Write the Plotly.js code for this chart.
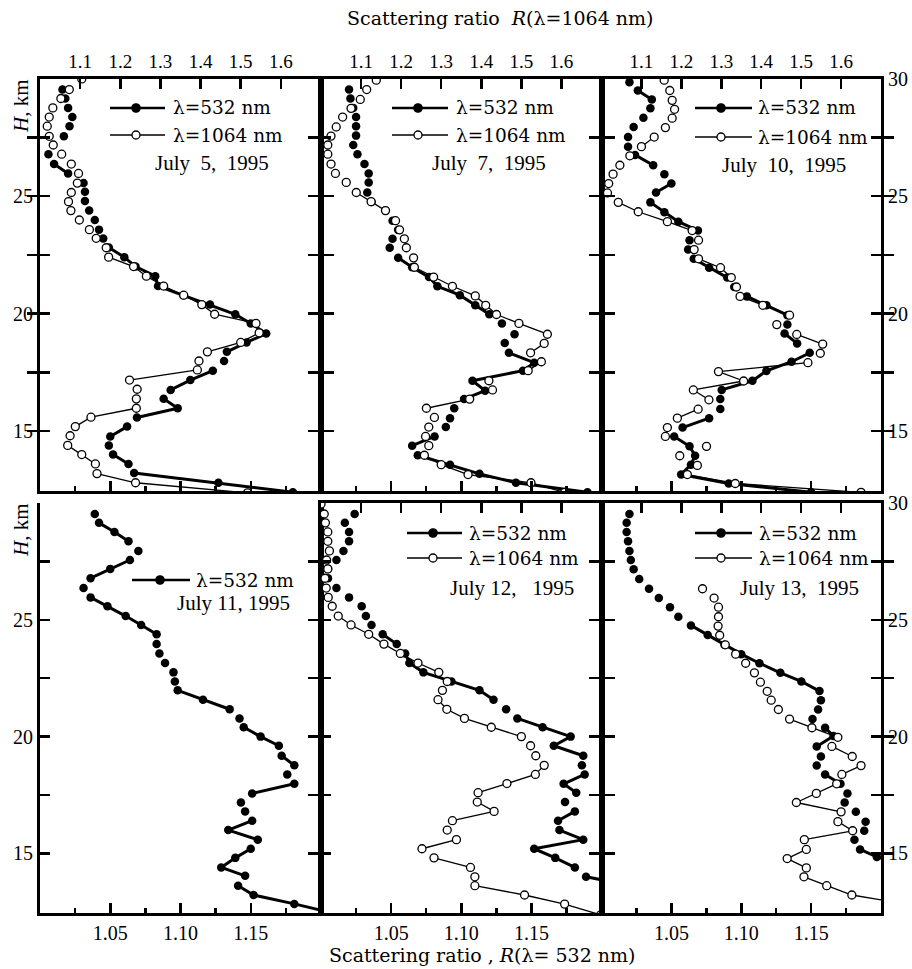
<!DOCTYPE html>
<html><head><meta charset="utf-8">
<script src="https://cdn.plot.ly/plotly-3.0.1.min.js"></script>
<style>body{margin:0;background:#fff}#chart{width:912px;height:969px}</style>
</head><body><div id="chart"></div>
<script>
// ---------- DATA (H in km, R = scattering ratio, L = 1 if joined to previous point) ----------
const dates = ['July\u00a0 5,\u00a0 1995', 'July\u00a0 7,\u00a0 1995', 'July\u00a0 10,\u00a0 1995', 'July 11, 1995', 'July 12,\u00a0\u00a0 1995', 'July 13,\u00a0 1995'];
const xTicks532 = [1.05, 1.10, 1.15];
const xTickText532 = ['1.05', '1.10', '1.15'];
const xTicks1064 = [1.1, 1.2, 1.3, 1.4, 1.5, 1.6];
const xTickText1064 = ['1.1', '1.2', '1.3', '1.4', '1.5', '1.6'];
const yTicks = [15, 17.5, 20, 22.5, 25, 27.5, 30];

// July 5
const H532_1 = [29.53,29.15,28.75,28.36,27.97,27.54,26.78,26.36,25.96,25.55,25.18,24.79,24.38,23.98,23.57,23.19,22.81,22.40,22.00,21.59,21.17,20.78,20.38,19.97,19.58,19.15,18.77,18.37,17.98,17.57,17.17,16.75,16.37,15.97,15.58,15.19,14.77,14.39,14.00,13.60,13.22,12.80,12.40];
const R532_1 = [1.016,1.018,1.020,1.023,1.021,1.017,1.006,1.010,1.020,1.031,1.032,1.032,1.035,1.039,1.042,1.045,1.049,1.060,1.068,1.082,1.084,1.102,1.121,1.139,1.150,1.161,1.147,1.133,1.131,1.123,1.107,1.093,1.088,1.098,1.069,1.062,1.050,1.049,1.052,1.063,1.067,1.127,1.180];
const L532_1 = [0,0,0,0,0,0,0,0,1,0,0,0,0,0,0,0,0,1,1,1,1,1,1,1,1,1,1,1,0,0,1,1,0,1,1,0,1,0,0,1,0,1,1];
const H1064_1 = [29.98,29.53,29.15,28.75,28.36,27.97,27.54,27.17,26.78,26.36,25.96,25.55,25.15,24.76,24.38,23.98,23.57,23.20,22.80,22.40,22.00,21.59,21.17,20.78,20.38,19.97,19.58,19.18,18.77,18.37,17.98,17.60,17.17,16.78,16.37,15.97,15.59,15.19,14.80,14.39,14.00,13.60,13.19,12.80,12.37];
const R1064_1 = [1.104,1.073,1.052,1.032,1.023,1.018,1.023,1.033,1.054,1.078,1.096,1.093,1.078,1.071,1.077,1.098,1.123,1.140,1.165,1.171,1.233,1.265,1.308,1.358,1.403,1.435,1.538,1.546,1.500,1.417,1.396,1.392,1.223,1.242,1.240,1.240,1.127,1.088,1.075,1.069,1.104,1.138,1.142,1.238,1.517];
const L1064_1 = [0,0,0,0,0,0,0,0,0,0,0,0,0,0,0,0,0,0,0,0,1,1,1,1,1,1,1,1,1,1,0,0,1,0,0,0,1,1,0,0,1,1,0,1,1];

// July 7
const H532_2 = [29.53,29.15,28.75,28.36,27.97,27.57,27.17,26.78,26.36,25.96,25.58,25.15,24.75,24.38,23.95,23.56,23.18,22.80,22.37,21.97,21.55,21.16,20.78,20.35,19.97,19.58,19.12,18.75,18.33,17.91,17.57,17.14,16.72,16.36,15.97,15.55,15.17,14.77,14.38,13.97,13.57,13.18,12.80,12.40];
const R532_2 = [1.020,1.021,1.023,1.025,1.025,1.025,1.023,1.026,1.031,1.034,1.034,1.033,1.036,1.046,1.051,1.055,1.051,1.049,1.055,1.065,1.077,1.083,1.099,1.110,1.120,1.129,1.138,1.131,1.134,1.152,1.144,1.108,1.117,1.102,1.095,1.092,1.089,1.081,1.065,1.069,1.092,1.113,1.139,1.190];
const L532_2 = [0,0,0,0,0,0,0,0,0,0,0,0,0,0,0,0,0,0,0,1,1,1,1,1,1,0,0,0,0,1,1,1,1,1,0,0,0,0,1,0,1,1,1,1];
const H1064_2 = [29.93,29.53,29.11,28.73,28.36,27.94,27.55,27.17,26.78,26.36,25.96,25.58,25.15,24.76,24.38,23.95,23.56,23.18,22.80,22.37,21.97,21.55,21.16,20.75,20.35,19.96,19.58,19.12,18.73,18.33,17.95,17.57,17.14,16.75,16.36,15.97,15.58,15.17,14.77,14.38,13.97,13.57,13.15,12.80,12.39];
const R1064_2 = [1.138,1.114,1.098,1.075,1.054,1.038,1.025,1.017,1.017,1.025,1.036,1.063,1.088,1.125,1.161,1.186,1.196,1.208,1.213,1.231,1.233,1.281,1.328,1.385,1.411,1.438,1.494,1.565,1.557,1.523,1.550,1.517,1.419,1.428,1.371,1.263,1.283,1.269,1.261,1.269,1.258,1.300,1.367,1.524,1.608];
const L1064_2 = [0,0,0,0,0,0,0,0,0,0,0,0,0,1,1,0,0,0,0,0,0,1,1,1,1,1,1,1,0,1,0,1,0,0,0,1,0,0,0,0,0,1,1,1,1];

// July 10
const H532_3 = [29.84,29.49,29.11,28.73,28.33,27.94,27.51,27.10,26.75,26.31,25.93,25.53,25.15,24.73,24.31,23.91,23.53,23.12,22.72,22.33,21.95,21.53,21.13,20.73,20.35,19.93,19.53,19.15,18.73,18.33,17.95,17.56,17.14,16.75,16.36,15.94,15.55,15.15,14.77,14.35,13.95,13.57,13.15,12.77,12.40];
const R532_3 = [1.020,1.026,1.036,1.035,1.030,1.023,1.019,1.019,1.024,1.037,1.045,1.050,1.039,1.035,1.045,1.055,1.069,1.063,1.062,1.066,1.077,1.090,1.095,1.104,1.118,1.133,1.133,1.131,1.140,1.149,1.136,1.118,1.108,1.086,1.085,1.085,1.077,1.058,1.052,1.063,1.067,1.064,1.057,1.091,1.150];
const L532_3 = [0,0,1,0,0,0,0,0,0,1,0,0,1,0,1,1,1,0,0,0,1,1,0,0,1,1,0,0,1,0,1,1,1,1,0,0,0,1,0,1,1,1,1,1,1];
const H1064_3 = [29.93,29.49,29.07,28.69,28.31,27.91,27.51,27.10,26.71,26.31,25.93,25.53,25.13,24.73,24.33,23.91,23.53,23.12,22.72,22.33,21.95,21.53,21.13,20.73,20.35,19.93,19.53,19.11,18.70,18.31,17.91,17.53,17.13,16.75,16.33,15.93,15.55,15.15,14.77,14.35,13.95,13.54,13.15,12.77,12.39];
const R1064_3 = [1.157,1.171,1.177,1.183,1.177,1.160,1.132,1.100,1.071,1.046,1.029,1.018,1.015,1.042,1.092,1.165,1.227,1.243,1.232,1.243,1.298,1.325,1.338,1.347,1.404,1.471,1.439,1.489,1.554,1.548,1.517,1.293,1.356,1.230,1.269,1.242,1.190,1.165,1.160,1.263,1.196,1.240,1.215,1.335,1.650];
const L1064_3 = [0,0,0,0,0,0,0,1,0,0,0,0,0,0,1,1,1,0,0,0,1,1,0,0,1,1,0,0,1,0,0,1,1,1,1,0,1,0,0,0,0,0,0,1,1];

// July 11 (532 nm only)
const H532_4 = [29.53,29.15,28.76,28.36,27.95,27.56,27.18,26.78,26.36,25.96,25.58,25.16,24.78,24.38,23.96,23.56,23.15,22.75,22.36,21.98,21.58,21.17,20.78,20.40,20.00,19.61,19.18,18.77,18.38,17.98,17.57,17.18,16.80,16.40,16.00,15.59,15.20,14.81,14.40,14.04,13.62,13.22,12.84,12.50];
const R532_4 = [1.039,1.042,1.053,1.063,1.070,1.064,1.050,1.036,1.031,1.036,1.048,1.061,1.072,1.083,1.083,1.085,1.089,1.095,1.096,1.098,1.116,1.135,1.142,1.145,1.157,1.170,1.172,1.181,1.176,1.181,1.151,1.143,1.146,1.151,1.134,1.155,1.150,1.139,1.129,1.146,1.141,1.152,1.181,1.205];
const L532_4 = [0,0,1,1,0,0,1,1,0,0,1,1,1,1,0,0,0,0,0,0,1,1,0,0,1,1,0,1,0,0,1,0,0,0,1,1,0,1,1,1,0,1,1,1];

// July 12
const H532_5 = [29.53,29.15,28.76,28.36,27.95,27.56,27.18,26.78,26.36,25.96,25.58,25.16,24.78,24.38,23.96,23.56,23.15,22.75,22.36,21.98,21.58,21.17,20.78,20.40,20.00,19.61,19.18,18.77,18.38,17.98,17.60,17.20,16.80,16.40,16.00,15.59,15.20,14.81,14.40,14.00,13.70];
const R532_5 = [1.024,1.017,1.020,1.020,1.016,1.011,1.005,1.005,1.011,1.020,1.029,1.032,1.036,1.044,1.054,1.060,1.063,1.073,1.093,1.113,1.123,1.132,1.140,1.158,1.178,1.166,1.187,1.186,1.188,1.173,1.182,1.174,1.181,1.169,1.170,1.187,1.152,1.167,1.181,1.189,1.215];
const L532_5 = [0,0,0,0,0,0,0,0,0,0,0,0,0,0,1,0,1,1,1,1,1,0,0,1,1,1,1,0,0,1,1,0,0,1,0,1,1,1,1,0,1];
const H1064_5 = [29.96,29.53,29.15,28.76,28.36,27.95,27.56,27.18,26.78,26.36,25.96,25.58,25.16,24.78,24.38,23.96,23.56,23.15,22.75,22.36,21.98,21.58,21.17,20.78,20.40,20.00,19.61,19.18,18.77,18.38,17.99,17.60,17.20,16.80,16.40,16.00,15.59,15.20,14.81,14.40,14.00,13.62,13.22,12.83,12.37];
const R1064_5 = [1.000,1.008,1.011,1.017,1.017,1.021,1.014,1.017,1.010,1.013,1.018,1.028,1.043,1.075,1.119,1.157,1.198,1.242,1.294,1.315,1.303,1.292,1.314,1.358,1.425,1.500,1.523,1.536,1.557,1.535,1.464,1.392,1.390,1.432,1.328,1.315,1.338,1.252,1.282,1.373,1.384,1.384,1.508,1.608,1.698];
const L1064_5 = [0,0,0,0,0,0,0,0,0,0,0,0,0,1,1,1,1,1,1,0,0,0,1,1,1,1,0,0,0,1,1,1,0,1,1,0,0,1,0,1,0,0,1,1,1];

// July 13
const H532_6 = [29.53,29.15,28.76,28.36,27.95,27.56,27.16,26.75,26.33,25.93,25.54,25.13,24.76,24.35,23.93,23.53,23.14,22.73,22.36,21.95,21.56,21.16,20.75,20.38,20.03,19.58,19.15,18.76,18.38,17.98,17.57,17.18,16.78,16.36,15.97,15.59,15.17,14.85,14.60];
const R532_6 = [1.020,1.018,1.018,1.019,1.020,1.021,1.023,1.027,1.034,1.041,1.049,1.055,1.064,1.076,1.088,1.100,1.113,1.128,1.143,1.156,1.157,1.155,1.151,1.160,1.166,1.154,1.157,1.154,1.160,1.171,1.176,1.174,1.182,1.189,1.188,1.181,1.185,1.197,1.215];
const L532_6 = [0,0,0,0,0,0,0,0,0,0,0,0,0,1,1,1,1,1,1,1,0,0,0,0,1,1,0,0,0,1,0,0,0,0,0,0,0,1,1];
const H1064_6 = [26.33,25.93,25.54,25.13,24.73,24.34,23.93,23.53,23.14,22.73,22.33,21.94,21.56,21.16,20.75,20.38,19.97,19.58,19.15,18.76,18.38,17.98,17.57,17.18,16.78,16.36,15.97,15.59,15.17,14.78,14.38,14.00,13.62,13.22,12.95];
const R1064_6 = [1.253,1.282,1.293,1.293,1.292,1.296,1.310,1.336,1.361,1.383,1.398,1.415,1.425,1.443,1.471,1.527,1.592,1.577,1.628,1.650,1.602,1.589,1.538,1.488,1.600,1.592,1.629,1.508,1.513,1.465,1.513,1.507,1.564,1.627,1.720];
const L1064_6 = [0,0,0,0,0,0,0,0,0,0,0,0,0,0,0,1,1,0,1,0,1,0,1,1,1,0,1,1,0,1,1,0,1,1,1];

// ---------- BUILD ----------
const panels = [
  {h5:H532_1, r5:R532_1, l5:L532_1, h1:H1064_1, r1:R1064_1, l1:L1064_1},
  {h5:H532_2, r5:R532_2, l5:L532_2, h1:H1064_2, r1:R1064_2, l1:L1064_2},
  {h5:H532_3, r5:R532_3, l5:L532_3, h1:H1064_3, r1:R1064_3, l1:L1064_3},
  {h5:H532_4, r5:R532_4, l5:L532_4, h1:null, r1:null, l1:null},
  {h5:H532_5, r5:R532_5, l5:L532_5, h1:H1064_5, r1:R1064_5, l1:L1064_5},
  {h5:H532_6, r5:R532_6, l5:L532_6, h1:H1064_6, r1:R1064_6, l1:L1064_6}
];

function runs(H, R, L) {
  const x = [], y = [];
  for (let i = 0; i < H.length; i++) {
    if (i > 0 && !L[i]) { x.push(null); y.push(null); }
    x.push(R[i]); y.push(H[i]);
  }
  return {x, y};
}

// pixel -> paper helpers (plot area 40..881 x 78..913)
const PL = 40, PT = 78, PW = 841, PH = 835;
const px = v => (v - PL) / PW;
const py = v => (PT + PH - v) / PH;

const colPx = [[40, 321], [321, 601.5], [601.5, 881]];
const rowPx = [[78.5, 491], [503, 913]];

const FONT = '"Liberation Serif", "Times New Roman", serif';
const WIDE = '"DejaVu Serif", serif';
const traces = [];
const layout = {
  width: 912, height: 969,
  margin: {l: PL, r: 912 - PL - PW, t: PT, b: 969 - PT - PH},
  paper_bgcolor: '#fff', plot_bgcolor: 'rgba(0,0,0,0)',
  showlegend: false,
  font: {family: FONT, color: '#000', size: 18},
  annotations: [], shapes: []
};

const legendPos = [
  {x1: 110, x2: 165, xm: 136, xt: 171, y5: 108, y1: 135, xd: 153, yd: 163},
  {x1: 392, x2: 448, xm: 418, xt: 454, y5: 108, y1: 135, xd: 430, yd: 163},
  {x1: 695, x2: 752, xm: 721, xt: 756, y5: 108, y1: 137, xd: 720, yd: 165},
  {x1: 132, x2: 190, xm: 160, xt: 194, y5: 580, y1: null, xd: 175, yd: 603},
  {x1: 407, x2: 462, xm: 433, xt: 467, y5: 533, y1: 558, xd: 448, yd: 588},
  {x1: 695, x2: 752, xm: 721, xt: 757, y5: 533, y1: 558, xd: 738, yd: 588}
];

panels.forEach((p, k) => {
  const row = Math.floor(k / 3), col = k % 3;
  const xb = 'x' + (2 * k + 1), xt = 'x' + (2 * k + 2), ya = 'y' + (k + 1);
  const kb = 'xaxis' + (2 * k + 1 === 1 ? '' : 2 * k + 1), kt = 'xaxis' + (2 * k + 2), ky = 'yaxis' + (k + 1 === 1 ? '' : k + 1);
  const dx = [px(colPx[col][0]), px(colPx[col][1])];
  const dy = [py(rowPx[row][1]), py(rowPx[row][0])];

  const common = {showgrid: false, zeroline: false, showline: true, linecolor: '#000', linewidth: 3,
    ticks: 'inside', tickcolor: '#000', tickwidth: 2.5, ticklen: 10, fixedrange: true};

  layout[kb] = Object.assign({}, common, {
    domain: dx, anchor: ya, side: 'bottom', range: [1.0, 1.2],
    tickmode: 'array', tickvals: xTicks532, ticktext: xTickText532,
    showticklabels: row === 1, tickfont: {family: FONT, size: 20, color: '#000'},
    minor: {ticks: 'inside', tick0: 1.025, dtick: 0.05, ticklen: 5, tickwidth: 2.5, tickcolor: '#000', showgrid: false}
  });
  layout[kt] = Object.assign({}, common, {
    overlaying: xb, anchor: ya, side: 'top', range: [1.0, 1.7],
    tickmode: 'array', tickvals: xTicks1064, ticktext: xTickText1064,
    showticklabels: row === 0, tickfont: {family: FONT, size: 19, color: '#000'}
  });
  layout[ky] = Object.assign({}, common, {
    domain: dy, anchor: xb, side: col === 2 ? 'right' : 'left', range: [12.45, 30],
    mirror: 'allticks', tickmode: 'array', tickvals: yTicks,
    ticktext: col === 2 ? ['15', '', '20', '', '25', '', '30'] : ['15', '', '20', '', '25', '', ''],
    showticklabels: col !== 1, tickfont: {family: FONT, size: 20, color: '#000'}
  });

  const a = runs(p.h5, p.r5, p.l5);
  traces.push({type: 'scatter', mode: 'lines+markers', x: a.x, y: a.y, xaxis: xb, yaxis: ya,
    connectgaps: false, line: {color: '#000', width: 3},
    marker: {symbol: 'circle', size: 8.5, color: '#000'}, hoverinfo: 'skip'});
  if (p.h1) {
    const b = runs(p.h1, p.r1, p.l1);
    traces.push({type: 'scatter', mode: 'lines+markers', x: b.x, y: b.y, xaxis: xt, yaxis: ya,
      connectgaps: false, line: {color: '#000', width: 1.3},
      marker: {symbol: 'circle', size: 8, color: '#fff', line: {color: '#000', width: 1.3}}, hoverinfo: 'skip'});
  }

  // legend glyphs and labels
  const lp = legendPos[k];
  const glyph = (y, filled) => {
    layout.shapes.push({type: 'line', xref: 'paper', yref: 'paper', x0: px(lp.x1), x1: px(lp.x2), y0: py(y), y1: py(y),
      line: {color: '#000', width: filled ? 2.5 : 1.6}});
    const r = filled ? 4.2 : 4;
    layout.shapes.push({type: 'circle', xref: 'paper', yref: 'paper', x0: px(lp.xm - r), x1: px(lp.xm + r), y0: py(y + r), y1: py(y - r),
      fillcolor: filled ? '#000' : '#fff', line: {color: '#000', width: 1.3}});
    layout.annotations.push({xref: 'paper', yref: 'paper', x: px(lp.xt), y: py(y), xanchor: 'left', yanchor: 'middle',
      text: filled ? 'λ=532 nm' : 'λ=1064 nm', showarrow: false, font: {family: WIDE, size: 18.5, color: '#000'}});
  };
  glyph(lp.y5, true);
  if (lp.y1 !== null) glyph(lp.y1, false);
  layout.annotations.push({xref: 'paper', yref: 'paper', x: px(lp.xd), y: py(lp.yd), xanchor: 'left', yanchor: 'middle',
    text: dates[k], showarrow: false, font: {family: FONT, size: 21, color: '#000'}});
});

// axis titles
layout.annotations.push({xref: 'paper', yref: 'paper', x: px(500), y: py(18), xanchor: 'center', yanchor: 'middle',
  text: 'Scattering ratio\u00a0\u00a0<i>R</i>(λ=1064 nm)', showarrow: false, font: {family: WIDE, size: 19, color: '#000'}});
layout.annotations.push({xref: 'paper', yref: 'paper', x: px(482), y: py(955), xanchor: 'center', yanchor: 'middle',
  text: 'Scattering ratio\u00a0,\u00a0<i>R</i>(λ=\u00a0532\u00a0nm)', showarrow: false, font: {family: WIDE, size: 19, color: '#000'}});
[106, 530].forEach(yc => {
  layout.annotations.push({xref: 'paper', yref: 'paper', x: px(21), y: py(yc), xanchor: 'center', yanchor: 'middle',
    text: '<i>H</i>, km', textangle: -90, showarrow: false, font: {family: FONT, size: 21, color: '#000'}});
});

Plotly.newPlot('chart', traces, layout, {staticPlot: true, displayModeBar: false});
</script>
</body></html>
